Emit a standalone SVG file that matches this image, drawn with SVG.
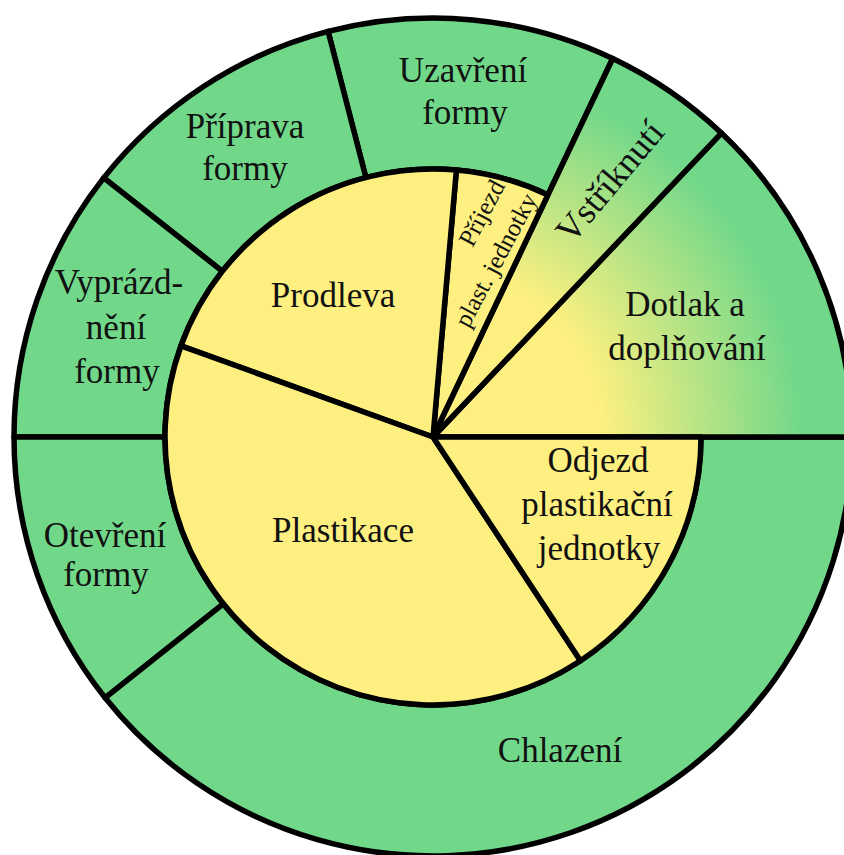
<svg xmlns="http://www.w3.org/2000/svg" width="844" height="855" viewBox="0 0 844 855">
<defs>
<radialGradient id="gy" gradientUnits="userSpaceOnUse" cx="433" cy="437" r="419">
<stop offset="0" stop-color="#FEF080"/>
<stop offset="0.4" stop-color="#FEF080"/>
<stop offset="0.88" stop-color="#71D88A"/>
<stop offset="1" stop-color="#71D88A"/>
</radialGradient>
<style>
.g{fill:#71D88A;stroke:#000;stroke-width:5.5;stroke-linejoin:round}
.gr{fill:url(#gy);stroke:#000;stroke-width:5.5;stroke-linejoin:round}
.y{fill:#FEF080;stroke:#000;stroke-width:5.5;stroke-linejoin:round}
text{font-family:"Liberation Serif","Times New Roman",serif;font-size:35px;fill:#111;text-anchor:middle}
.s{font-size:25px}
.v{font-size:36px}
</style>
</defs>
<rect width="844" height="855" fill="#fff"/>
<g id="uzavreni">
<path class="g" d="M547.9,194.9 L612.7,58.5 A419,419 0 0 0 328.1,31.4 L365.9,177.6 A268,268 0 0 1 547.9,194.9 Z"/>
<text x="463" y="82">Uzavření</text><text x="465" y="124">formy</text>
</g>
<g id="priprava">
<path class="g" d="M365.9,177.6 L328.1,31.4 A419,419 0 0 0 103.7,177.9 L222.4,271.3 A268,268 0 0 1 365.9,177.6 Z"/>
<text x="245" y="138">Příprava</text><text x="245" y="180">formy</text>
</g>
<g id="vyprazdneni">
<path class="g" d="M222.4,271.3 L103.7,177.9 A419,419 0 0 0 14,437 L165,437 A268,268 0 0 1 222.4,271.3 Z"/>
<text x="119" y="294">Vyprázd-</text><text x="116" y="339">nění</text><text x="117" y="383">formy</text>
</g>
<g id="otevreni">
<path class="g" d="M165,437 L14,437 A419,419 0 0 0 105.1,697.8 L223.3,603.8 A268,268 0 0 1 165,437 Z"/>
<text x="105" y="547">Otevření</text><text x="106" y="586">formy</text>
</g>
<g id="chlazeni">
<path class="g" d="M223.3,603.8 L105.1,697.8 A419,419 0 0 0 852,437 L701,437 A268,268 0 0 1 223.3,603.8 Z"/>
<text x="560" y="762">Chlazení</text>
</g>
<g id="dotlak">
<path class="gr" d="M433,437 L852,437 A419,419 0 0 0 721.4,133.1 Z"/>
<text x="685" y="316">Dotlak a</text><text x="687" y="360">doplňování</text>
</g>
<g id="vstriknuti">
<path class="gr" d="M433,437 L721.4,133.1 A419,419 0 0 0 612.7,58.5 Z"/>
<text class="v" transform="translate(619,189) rotate(-50)">Vstříknutí</text>
</g>
<g id="prijezd">
<path class="y" d="M433,437 L547.9,194.9 A268,268 0 0 0 456.4,170 Z"/>
<text class="s" transform="translate(489,217) rotate(-62)">Příjezd</text>
<text class="s" transform="translate(503,264) rotate(-62)">plast. jednotky</text>
</g>
<g id="prodleva">
<path class="y" d="M433,437 L456.4,170 A268,268 0 0 0 181,345.8 Z"/>
<text x="333" y="307">Prodleva</text>
</g>
<g id="plastikace">
<path class="y" d="M433,437 L181,345.8 A268,268 0 0 0 580.5,660.7 Z"/>
<text x="343" y="542">Plastikace</text>
</g>
<g id="odjezd">
<path class="y" d="M433,437 L580.5,660.7 A268,268 0 0 0 701,437 Z"/>
<text x="598" y="472">Odjezd</text><text x="597" y="516">plastikační</text><text x="599" y="560">jednotky</text>
</g>
<g id="connectors"></g>
</svg>
